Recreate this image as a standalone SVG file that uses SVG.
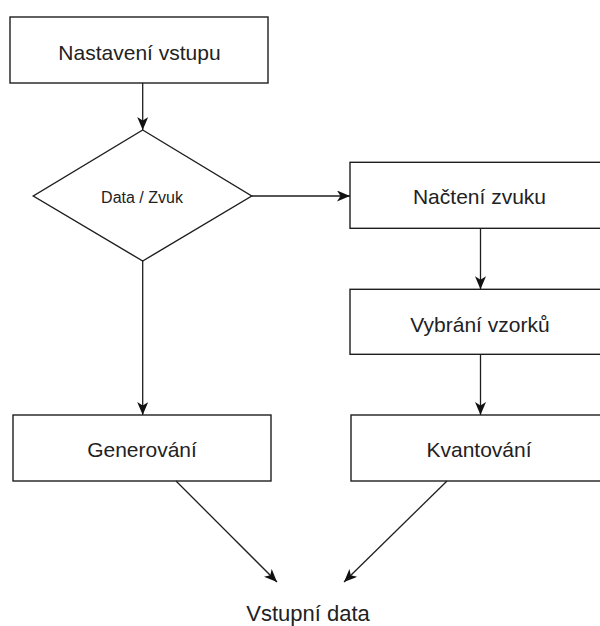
<svg xmlns="http://www.w3.org/2000/svg" width="600" height="626" viewBox="0 0 600 626">
  <style>
    .box { fill: #ffffff; stroke: #1e1e1e; stroke-width: 1.4; }
    .lbl { font-family: "Liberation Sans", Arial, sans-serif; font-size: 21px; fill: #222222; text-anchor: middle; }
    .small { font-size: 16px; }
    .conn { fill: none; stroke: #1e1e1e; stroke-width: 1.3; }
  </style>
  <defs>
    <marker id="arr" viewBox="0 0 13 11" refX="13" refY="5.5" markerWidth="13" markerHeight="11" orient="auto" markerUnits="userSpaceOnUse">
      <path d="M0,0 L13,5.5 L0,11 L3.5,5.5 z" fill="#111111"/>
    </marker>
  </defs>
  <rect width="600" height="626" fill="#ffffff"/>

  <g id="node-nastaveni">
    <rect class="box" x="10" y="17" width="258" height="66"/>
    <text class="lbl" x="139.5" y="59.5">Nastavení vstupu</text>
  </g>
  <g id="node-data-zvuk">
    <polygon class="box" points="142.7,130 251.7,196 142.7,261 33.3,196"/>
    <text class="lbl small" x="142" y="202.5">Data / Zvuk</text>
  </g>
  <g id="node-nacteni">
    <rect class="box" x="350" y="162.3" width="258" height="66"/>
    <text class="lbl" x="479.5" y="204">Načtení zvuku</text>
  </g>
  <g id="node-vybrani">
    <rect class="box" x="350" y="289.3" width="258" height="65"/>
    <text class="lbl" x="480" y="331.5">Vybrání vzorků</text>
  </g>
  <g id="node-generovani">
    <rect class="box" x="13" y="415" width="258" height="66"/>
    <text class="lbl" x="142" y="456.5">Generování</text>
  </g>
  <g id="node-kvantovani">
    <rect class="box" x="351" y="415" width="258" height="66"/>
    <text class="lbl" x="479" y="456.5">Kvantování</text>
  </g>
  <g id="node-vstupni-data">
    <text class="lbl" x="308" y="621" style="font-size:22px">Vstupní data</text>
  </g>

  <g id="connectors">
    <line class="conn" x1="142.7" y1="83" x2="142.7" y2="130" marker-end="url(#arr)"/>
    <line class="conn" x1="251.7" y1="196" x2="350" y2="196" marker-end="url(#arr)"/>
    <line class="conn" x1="142.7" y1="261" x2="142.7" y2="415" marker-end="url(#arr)"/>
    <line class="conn" x1="480.5" y1="228.3" x2="480.5" y2="289.3" marker-end="url(#arr)"/>
    <line class="conn" x1="480.5" y1="354.3" x2="480.5" y2="415" marker-end="url(#arr)"/>
    <line class="conn" x1="176" y1="481" x2="277" y2="582" marker-end="url(#arr)"/>
    <line class="conn" x1="447" y1="481" x2="344" y2="582" marker-end="url(#arr)"/>
  </g>
</svg>
